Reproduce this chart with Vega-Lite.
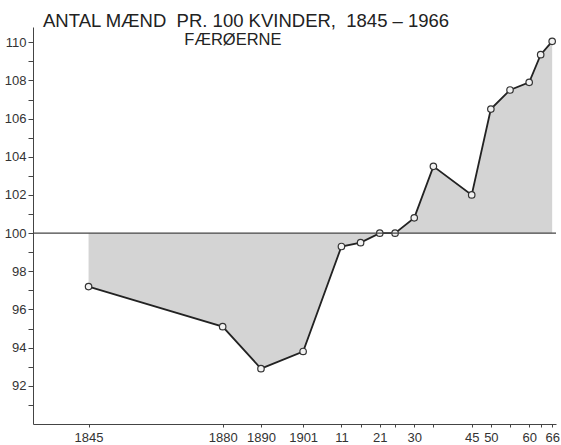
{
  "$schema": "https://vega.github.io/schema/vega-lite/v6.json",
  "width": 523,
  "height": 397,
  "autosize": "none",
  "padding": {"left": 33, "top": 27, "right": 5, "bottom": 21},
  "background": "white",
  "title": {
    "text": "ANTAL MÆND\u00a0\u00a0PR. 100 KVINDER,\u00a0\u00a01845\u00a0–\u00a01966",
    "anchor": "start",
    "frame": "group",
    "dx": 10,
    "offset": -18,
    "baseline": "alphabetic",
    "font": "Liberation Sans",
    "fontSize": 18.5,
    "fontWeight": "normal",
    "color": "#222222"
  },
  "config": {
    "view": {"stroke": null},
    "axis": {
      "domainColor": "#444444",
      "tickColor": "#444444",
      "labelColor": "#333333",
      "labelFont": "Liberation Sans Narrow, Liberation Sans",
      "labelFontSize": 13,
      "labelOverlap": false,
      "grid": false,
      "title": null
    }
  },
  "data": {
    "values": [
      {"year": 1845, "value": 97.2},
      {"year": 1880, "value": 95.1},
      {"year": 1890, "value": 92.9},
      {"year": 1901, "value": 93.8},
      {"year": 1911, "value": 99.3},
      {"year": 1916, "value": 99.5},
      {"year": 1921, "value": 100.0},
      {"year": 1925, "value": 100.0},
      {"year": 1930, "value": 100.8},
      {"year": 1935, "value": 103.5},
      {"year": 1945, "value": 102.0},
      {"year": 1950, "value": 106.5},
      {"year": 1955, "value": 107.5},
      {"year": 1960, "value": 107.9},
      {"year": 1963, "value": 109.35},
      {"year": 1966, "value": 110.05}
    ]
  },
  "layer": [
    {
      "encoding": {
        "x": {
          "field": "year",
          "type": "quantitative",
          "scale": {"domain": [1830.5, 1967], "nice": false, "zero": false},
          "axis": {
            "values": [1845, 1880, 1890, 1901, 1911, 1916, 1921, 1925, 1930, 1935, 1945, 1950, 1955, 1960, 1963, 1966],
            "labelExpr": "indexof([1916,1925,1935,1955,1963], datum.value) >= 0 ? '' : (datum.value <= 1901 ? '' + datum.value : substring('' + datum.value, 2))",
            "tickSize": 3,
            "labelPadding": 4,
            "labelFlush": false,
            "labelOverlap": false
          }
        },
        "y": {
          "field": "value",
          "type": "quantitative",
          "scale": {"domain": [90, 110.8], "nice": false, "zero": false},
          "axis": {
            "values": [91, 92, 93, 94, 95, 96, 97, 98, 99, 100, 101, 102, 103, 104, 105, 106, 107, 108, 109, 110],
            "labelExpr": "datum.value % 2 == 0 ? '' + datum.value : ''",
            "tickSize": 5,
            "labelPadding": 2,
            "labelOverlap": false
          }
        }
      },
      "layer": [
        {
          "mark": {"type": "area", "color": "#d4d4d4", "opacity": 1},
          "encoding": {"y2": {"datum": 100}}
        },
        {
          "mark": {"type": "line", "color": "#222222", "strokeWidth": 1.8}
        },
        {
          "mark": {"type": "point", "shape": "circle", "size": 42, "filled": true, "fill": "#f2f2f2", "stroke": "#333333", "strokeWidth": 1.2, "opacity": 1}
        }
      ]
    },
    {
      "data": {"values": [{"level": 100}]},
      "mark": {"type": "rule", "color": "#444444", "strokeWidth": 1.3},
      "encoding": {
        "y": {
          "field": "level",
          "type": "quantitative",
          "axis": {
            "values": [91, 92, 93, 94, 95, 96, 97, 98, 99, 100, 101, 102, 103, 104, 105, 106, 107, 108, 109, 110],
            "labelExpr": "datum.value % 2 == 0 ? '' + datum.value : ''",
            "tickSize": 5,
            "labelPadding": 2,
            "labelOverlap": false
          }
        }
      }
    },
    {
      "data": {"values": [{"label": "FÆRØERNE"}]},
      "mark": {"type": "text", "align": "left", "baseline": "alphabetic", "font": "Liberation Sans", "fontSize": 16.5, "fontWeight": "normal", "color": "#222222"},
      "encoding": {
        "text": {"field": "label"},
        "x": {
          "datum": 1870,
          "type": "quantitative",
          "axis": {
            "values": [1845, 1880, 1890, 1901, 1911, 1916, 1921, 1925, 1930, 1935, 1945, 1950, 1955, 1960, 1963, 1966],
            "labelExpr": "indexof([1916,1925,1935,1955,1963], datum.value) >= 0 ? '' : (datum.value <= 1901 ? '' + datum.value : substring('' + datum.value, 2))",
            "tickSize": 3,
            "labelPadding": 4,
            "labelFlush": false,
            "labelOverlap": false
          }
        },
        "y": {
          "datum": 109.85,
          "type": "quantitative",
          "axis": {
            "values": [91, 92, 93, 94, 95, 96, 97, 98, 99, 100, 101, 102, 103, 104, 105, 106, 107, 108, 109, 110],
            "labelExpr": "datum.value % 2 == 0 ? '' + datum.value : ''",
            "tickSize": 5,
            "labelPadding": 2,
            "labelOverlap": false
          }
        }
      }
    }
  ]
}
